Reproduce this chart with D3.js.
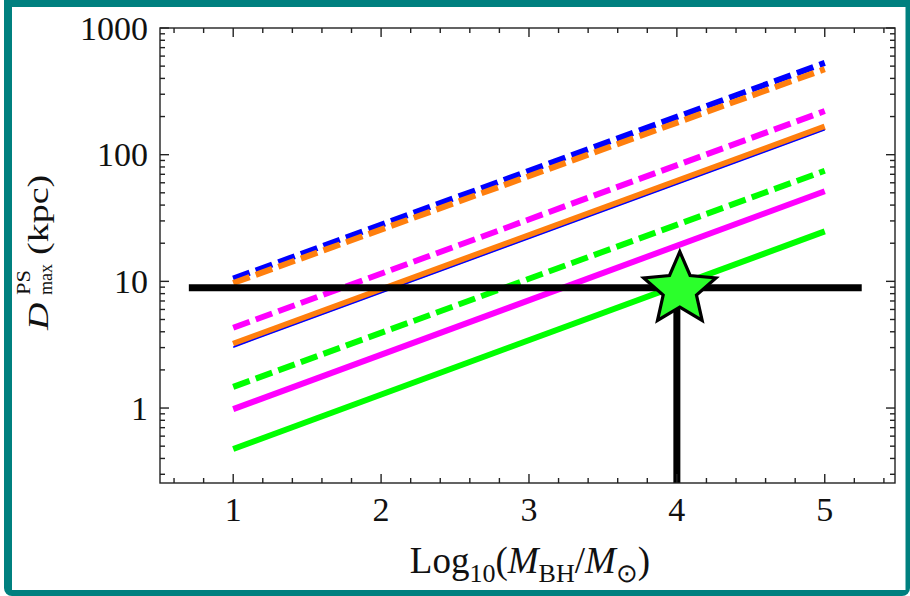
<!DOCTYPE html>
<html><head><meta charset="utf-8">
<script src="https://cdn.jsdelivr.net/npm/d3@7"></script>
<style>
html,body{margin:0;padding:0;background:#fff;}
svg{display:block;font-family:"Liberation Serif","Times New Roman",serif;}
</style></head><body>
<svg id="chart" width="910" height="596"></svg>
<script>
// Log10(M_BH / M_sun) at the two ends of every curve
const massEnds = [1, 5];
// D_max^PS (kpc) at the two ends of every curve
const blueDashed    = [10.5, 530];
const orangeDashed  = [9.7, 473];
const magentaDashed = [4.3, 221];
const orangeSolid   = [3.2, 166];
const blueThin      = [3.02, 157];
const greenDashed   = [1.47, 74.7];
const magentaSolid  = [0.98, 51.4];
const greenSolid    = [0.475, 24.8];

// drawing order and styles
const curves = [
  {values: blueDashed,    color: "#0000ff", width: 6,   dash: "17.5,6.5"},
  {values: orangeDashed,  color: "#ff7f0e", width: 6,   dash: "17.5,6.5"},
  {values: magentaDashed, color: "#ff00ff", width: 6,   dash: "17.5,6.5"},
  {values: orangeSolid,   color: "#ff7f0e", width: 6.5, dash: null},
  {values: blueThin,      color: "#0000ff", width: 1.4, dash: null},
  {values: greenDashed,   color: "#00ff00", width: 6,   dash: "17.5,6.5"},
  {values: magentaSolid,  color: "#ff00ff", width: 6,   dash: null},
  {values: greenSolid,    color: "#00ff00", width: 6,   dash: null}
];

// reference distance and mass
const refDistance = 8.9;
const refLineX = [0.7, 5.25];
const refMass = 4.0;
const starPoint = [4.02, 8.6];

// tick labels
const xTickValues = [1, 2, 3, 4, 5];
const yTickValues = [1, 10, 100, 1000];
const yTickLabels = ["1", "10", "100", "1000"];

const svg = d3.select("#chart");

// teal rounded frame around the figure
svg.append("rect").attr("x", 4).attr("y", -8).attr("width", 906).attr("height", 604)
  .attr("rx", 8).attr("fill", "#00807f");
svg.append("rect").attr("x", 12).attr("y", 7).attr("width", 893.5).attr("height", 583)
  .attr("fill", "#ffffff");

const plot = {left: 160, right: 895, top: 28, bottom: 483};

const x = d3.scaleLinear().domain([0.505, 5.475]).range([plot.left, plot.right]);
const y = d3.scaleLog().domain([0.256, 1000]).range([plot.bottom, plot.top]);

const g = svg.append("g");

// curves
const line = d3.line().x(d => x(d[0])).y(d => y(d[1]));
curves.forEach(c => {
  const pts = massEnds.map((m, i) => [m, c.values[i]]);
  g.append("path").attr("d", line(pts))
    .attr("fill", "none").attr("stroke", c.color)
    .attr("stroke-width", c.width)
    .attr("stroke-linecap", "butt")
    .attr("stroke-dasharray", c.dash);
});

// reference lines
g.append("path").attr("d", line(refLineX.map(v => [v, refDistance])))
  .attr("stroke", "#000").attr("stroke-width", 7).attr("fill", "none");
g.append("path").attr("d", line([[refMass, y.domain()[0]], [refMass, refDistance]]))
  .attr("stroke", "#000").attr("stroke-width", 7).attr("fill", "none");

// star marker
function starPath(R, r) {
  const p = [];
  for (let i = 0; i < 10; i++) {
    const a = -Math.PI / 2 + i * Math.PI / 5;
    const rr = i % 2 === 0 ? R : r;
    p.push([rr * Math.cos(a), rr * Math.sin(a)]);
  }
  return "M" + p.map(q => q.join(",")).join("L") + "Z";
}
g.append("path").attr("d", starPath(38, 17.5))
  .attr("transform", `translate(${x(starPoint[0])},${y(starPoint[1])})`)
  .attr("fill", "#2bff2b").attr("stroke", "#000").attr("stroke-width", 3.2)
  .attr("stroke-linejoin", "miter").attr("stroke-miterlimit", 10);

// frame axes with inward ticks
const axisColor = "#222";
const frame = svg.append("g");
frame.append("rect").attr("x", plot.left).attr("y", plot.top)
  .attr("width", plot.right - plot.left).attr("height", plot.bottom - plot.top)
  .attr("fill", "none").attr("stroke", axisColor).attr("stroke-width", 1.4);

const xMinor = d3.range(6, 55, 2).map(v => v / 10).filter(v => v > x.domain()[0] && v < x.domain()[1]);
xMinor.forEach(v => {
  const major = Math.abs(v - Math.round(v)) < 1e-6;
  const len = major ? 9 : 5;
  const px = x(v);
  frame.append("line").attr("x1", px).attr("x2", px).attr("y1", plot.bottom).attr("y2", plot.bottom - len)
    .attr("stroke", axisColor).attr("stroke-width", 1.4);
  frame.append("line").attr("x1", px).attr("x2", px).attr("y1", plot.top).attr("y2", plot.top + len)
    .attr("stroke", axisColor).attr("stroke-width", 1.4);
});

y.ticks().forEach(v => {
  const major = yTickValues.includes(v);
  const len = major ? 9 : 5;
  const py = y(v);
  frame.append("line").attr("x1", plot.left).attr("x2", plot.left + len).attr("y1", py).attr("y2", py)
    .attr("stroke", axisColor).attr("stroke-width", 1.4);
  frame.append("line").attr("x1", plot.right).attr("x2", plot.right - len).attr("y1", py).attr("y2", py)
    .attr("stroke", axisColor).attr("stroke-width", 1.4);
});

// tick labels
const labels = svg.append("g").attr("fill", "#111");
xTickValues.forEach(v => {
  labels.append("text").attr("x", x(v)).attr("y", 521).attr("text-anchor", "middle")
    .attr("font-size", 34).text(String(v));
});
yTickValues.forEach((v, i) => {
  labels.append("text").attr("x", 148).attr("y", y(v)).attr("dy", "0.34em")
    .attr("text-anchor", "end").attr("font-size", 34).text(yTickLabels[i]);
});

// x-axis title
const xt = labels.append("text").attr("x", 530).attr("y", 573).attr("text-anchor", "middle")
  .attr("font-size", 37);
xt.append("tspan").text("Log");
xt.append("tspan").attr("font-size", 26).attr("dy", 9).text("10");
xt.append("tspan").attr("dy", -9).text("(");
xt.append("tspan").attr("font-style", "italic").text("M");
xt.append("tspan").attr("font-size", 26).attr("dy", 9).text("BH");
xt.append("tspan").attr("dy", -9).text("/");
xt.append("tspan").attr("font-style", "italic").text("M");
xt.append("tspan").attr("font-size", 26).attr("dy", 9).text("\u2299");
xt.append("tspan").attr("dy", -9).text(")");

// y-axis title (glyphs set slightly narrow across the reading direction)
const yt = labels.append("g").attr("transform", "translate(48,251) rotate(-90) scale(1,0.75)");
yt.append("text").attr("x", -79).attr("y", 0).attr("font-size", 38).attr("font-style", "italic").text("D");
yt.append("text").attr("x", -44).attr("y", -24).attr("font-size", 26)
  .attr("textLength", 25).attr("lengthAdjust", "spacingAndGlyphs").text("PS");
yt.append("text").attr("x", -44).attr("y", 5.3).attr("font-size", 26)
  .attr("textLength", 31).attr("lengthAdjust", "spacingAndGlyphs").text("max");
yt.append("text").attr("x", -4).attr("y", 0).attr("font-size", 38).text("(kpc)");
</script>
</body></html>
